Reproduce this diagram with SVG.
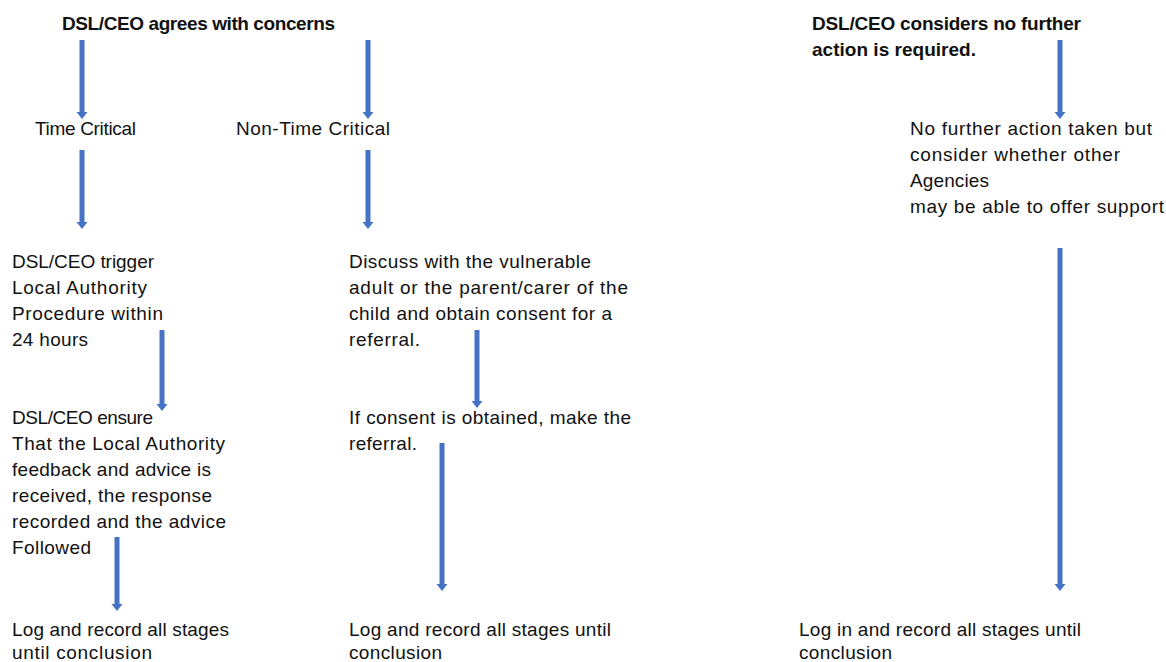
<svg xmlns="http://www.w3.org/2000/svg" width="1166" height="662" viewBox="0 0 1166 662">
<style>
text{font-family:"Liberation Sans",Arial,sans-serif;font-size:19px;fill:#111}
.b{font-weight:bold}
.arr{stroke:#4472C4;stroke-width:5;fill:none;marker-end:url(#ah)}
</style>
<defs>
<marker id="ah" markerUnits="userSpaceOnUse" markerWidth="12" markerHeight="8" refX="0" refY="4" orient="auto" viewBox="0 0 7 8" overflow="visible">
<path d="M0,-1.5 L7,4 L0,9.5 Z" fill="#4472C4"/>
</marker>
</defs>
<rect width="1166" height="662" fill="#fff"/>
<g id="connectors">
<line class="arr" x1="82" y1="40" x2="82" y2="112"/>
<line class="arr" x1="368" y1="40" x2="368" y2="112"/>
<line class="arr" x1="82" y1="150" x2="82" y2="222"/>
<line class="arr" x1="368" y1="150" x2="368" y2="222"/>
<line class="arr" x1="1060" y1="40" x2="1060" y2="112"/>
<line class="arr" x1="1060" y1="248" x2="1060" y2="584"/>
<line class="arr" x1="162" y1="330" x2="162" y2="404"/>
<line class="arr" x1="477" y1="330" x2="477" y2="401"/>
<line class="arr" x1="442" y1="443" x2="442" y2="584"/>
<line class="arr" x1="117" y1="537" x2="117" y2="604"/>
</g>
<g id="agrees"><text class="b" x="62" y="30" textLength="273">DSL/CEO agrees with concerns</text></g>
<g id="no-action"><text class="b" x="812" y="30" textLength="269">DSL/CEO considers no further</text><text class="b" x="812" y="56" textLength="164">action is required.</text></g>
<g id="time-critical"><text x="35" y="135" textLength="101">Time Critical</text></g>
<g id="non-time-critical"><text x="236" y="135" textLength="154">Non-Time Critical</text></g>
<g id="nfa-taken"><text x="910" y="135" textLength="242">No further action taken but</text><text x="910" y="161" textLength="210">consider whether other</text><text x="910" y="187" textLength="79">Agencies</text><text x="910" y="213" textLength="254">may be able to offer support</text></g>
<g id="trigger"><text x="12" y="268" textLength="142">DSL/CEO trigger</text><text x="12" y="294" textLength="135">Local Authority</text><text x="12" y="320" textLength="151">Procedure within</text><text x="12" y="346" textLength="76">24 hours</text></g>
<g id="discuss"><text x="349" y="268" textLength="242">Discuss with the vulnerable</text><text x="349" y="294" textLength="279">adult or the parent/carer of the</text><text x="349" y="320" textLength="263">child and obtain consent for a</text><text x="349" y="346" textLength="71">referral.</text></g>
<g id="ensure"><text x="12" y="424" textLength="141">DSL/CEO ensure</text><text x="12" y="450" textLength="213">That the Local Authority</text><text x="12" y="476" textLength="199">feedback and advice is</text><text x="12" y="502" textLength="200">received, the response</text><text x="12" y="528" textLength="214">recorded and the advice</text><text x="12" y="554" textLength="79">Followed</text></g>
<g id="consent"><text x="349" y="424" textLength="282">If consent is obtained, make the</text><text x="349" y="450" textLength="68">referral.</text></g>
<g id="log-1"><text x="12" y="636" textLength="217">Log and record all stages</text><text x="12" y="659" textLength="140">until conclusion</text></g>
<g id="log-2"><text x="349" y="636" textLength="262">Log and record all stages until</text><text x="349" y="659" textLength="93">conclusion</text></g>
<g id="log-3"><text x="799" y="636" textLength="282">Log in and record all stages until</text><text x="799" y="659" textLength="93">conclusion</text></g>
</svg>
